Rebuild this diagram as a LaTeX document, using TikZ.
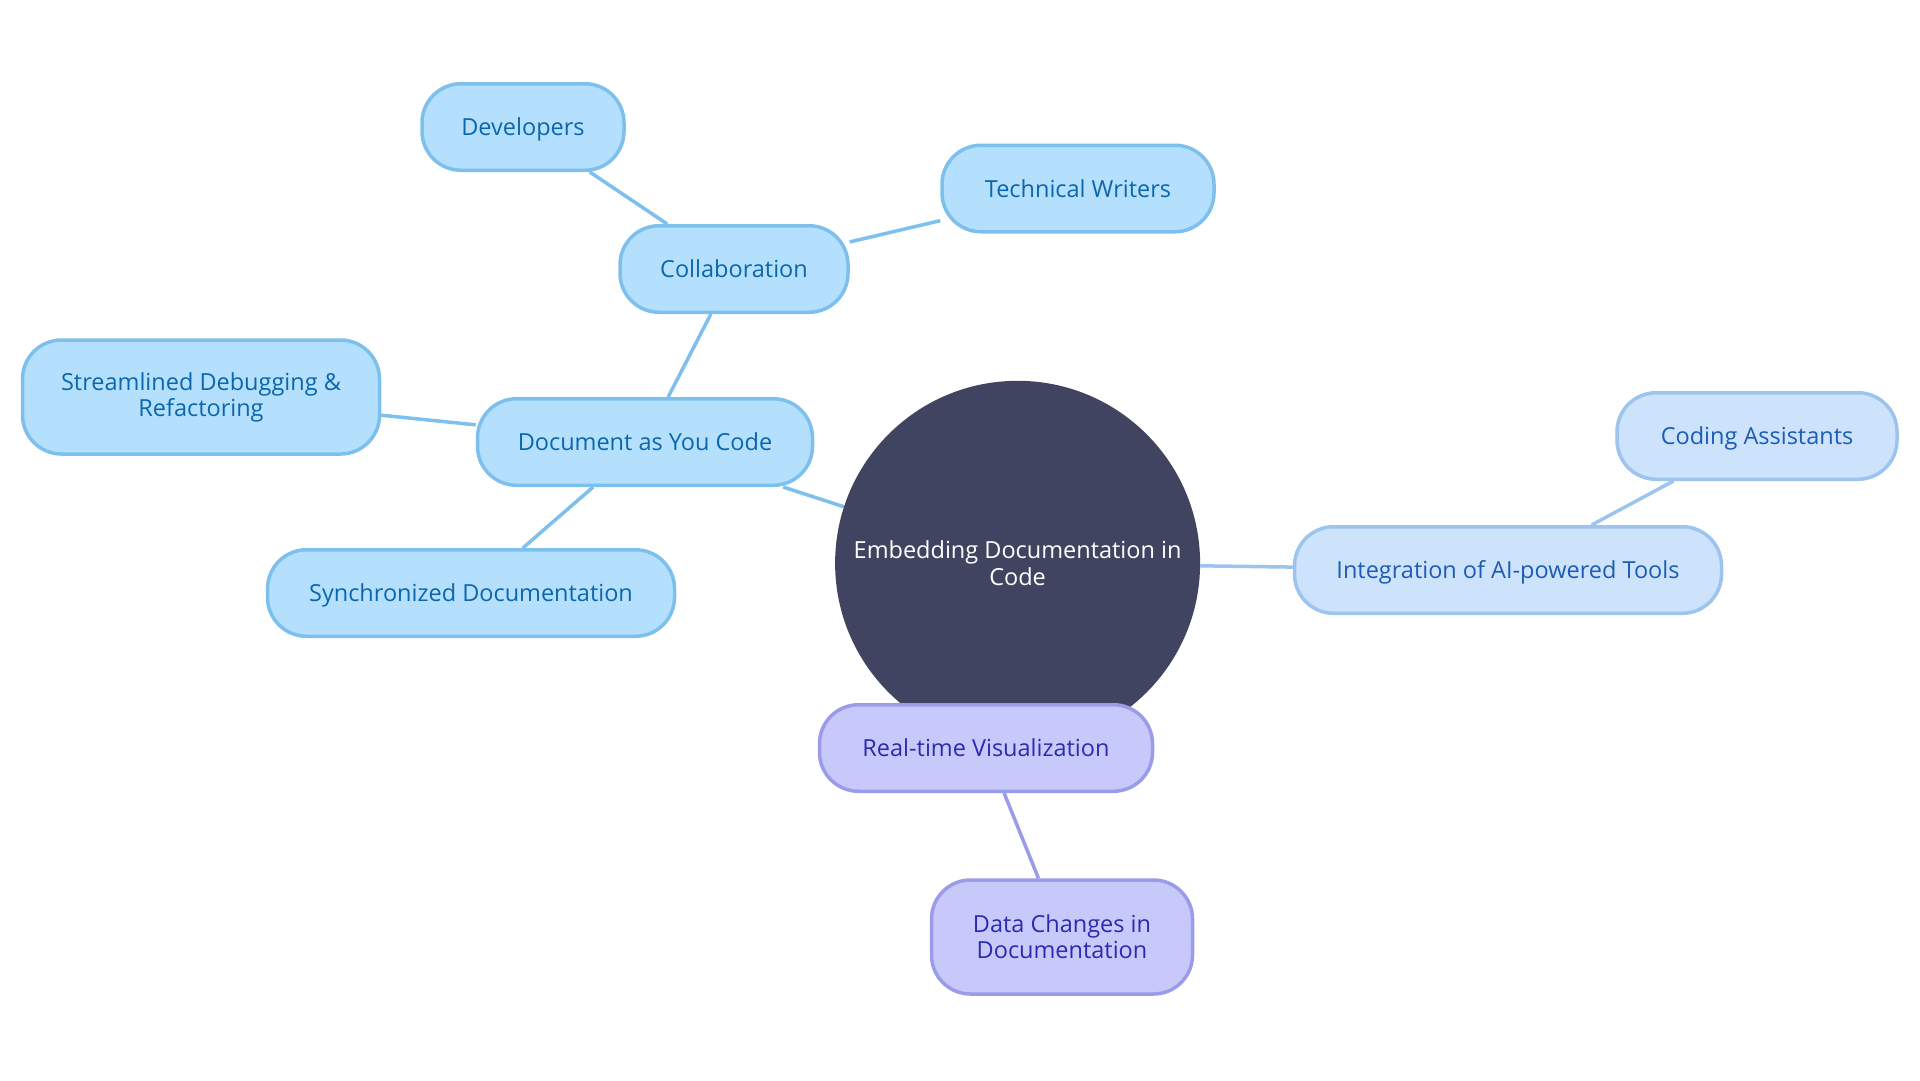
\documentclass[tikz,border=0pt]{standalone}
\usepackage{fontspec}
\setmainfont{Open Sans}
\usetikzlibrary{backgrounds}
\definecolor{bfill}{HTML}{B4E0FE}
\definecolor{bline}{HTML}{7DC0EE}
\definecolor{btext}{HTML}{0B66AC}
\definecolor{ifill}{HTML}{CDE3FB}
\definecolor{iline}{HTML}{9CC4EE}
\definecolor{itext}{HTML}{1D5CB6}
\definecolor{pfill}{HTML}{C8C9FB}
\definecolor{pline}{HTML}{9A9CE9}
\definecolor{ptext}{HTML}{2A2BB0}
\definecolor{cfill}{HTML}{414460}
\tikzset{
  basebox/.style={rounded corners=39pt, line width=3.5pt, align=center, inner sep=0pt,
    font=\fontsize{23.5}{26}\selectfont, minimum height=86.5pt},
  oneline/.style={text height=17pt, text depth=0pt},
  bluebox/.style={basebox, fill=bfill, draw=bline, text=btext},
  aibox/.style={basebox, fill=ifill, draw=iline, text=itext},
  purplebox/.style={basebox, fill=pfill, draw=pline, text=ptext},
  centralnode/.style={circle, fill=cfill, text=white, align=center, inner sep=0pt,
    minimum size=365pt, font=\fontsize{23.5}{27}\selectfont},
  bluelink/.style={line width=3.5pt, draw=bline},
  ailink/.style={line width=3.5pt, draw=iline},
  purplelink/.style={line width=3.5pt, draw=pline}
}
\begin{document}
\begin{tikzpicture}[x=1pt,y=-1pt]
\useasboundingbox (0,0) rectangle (1920,1080);
\node[centralnode] (c) at (1017.6,563.3) {Embedding Documentation in\\Code};
\node[bluebox, oneline, minimum width=202pt] (dev) at (523,127) {Developers};
\node[bluebox, oneline, minimum width=272pt] (tw) at (1078,188.5) {Technical Writers};
\node[bluebox, oneline, minimum width=228pt] (col) at (734,269) {Collaboration};
\node[bluebox, minimum width=357pt, minimum height=114pt] (str) at (201,397) {Streamlined Debugging \&\\Refactoring};
\node[bluebox, oneline, minimum width=335pt] (doc) at (645,442) {Document as You Code};
\node[bluebox, oneline, minimum width=407pt] (syn) at (471,593) {Synchronized Documentation};
\node[aibox, oneline, minimum width=280pt] (ca) at (1757,436) {Coding Assistants};
\node[aibox, oneline, minimum width=427pt] (ai) at (1508,570) {Integration of AI-powered Tools};
\node[purplebox, oneline, minimum width=333pt] (rt) at (986,748) {Real-time Visualization};
\node[purplebox, minimum width=261pt, minimum height=114pt] (dc) at (1062,937) {Data Changes in\\Documentation};
\begin{scope}[on background layer]
\fill[white] (0,0) rectangle (1920,1080);
\draw[bluelink] (c) -- (doc);
\draw[bluelink] (doc) -- (col);
\draw[bluelink] (doc) -- (str);
\draw[bluelink] (doc) -- (syn);
\draw[bluelink] (col) -- (dev);
\draw[bluelink] (col) -- (tw);
\draw[ailink] (c) -- (ai);
\draw[ailink] (ai) -- (ca);
\draw[purplelink] (c) -- (rt);
\draw[purplelink] (rt) -- (dc);
\end{scope}
\end{tikzpicture}
\end{document}
